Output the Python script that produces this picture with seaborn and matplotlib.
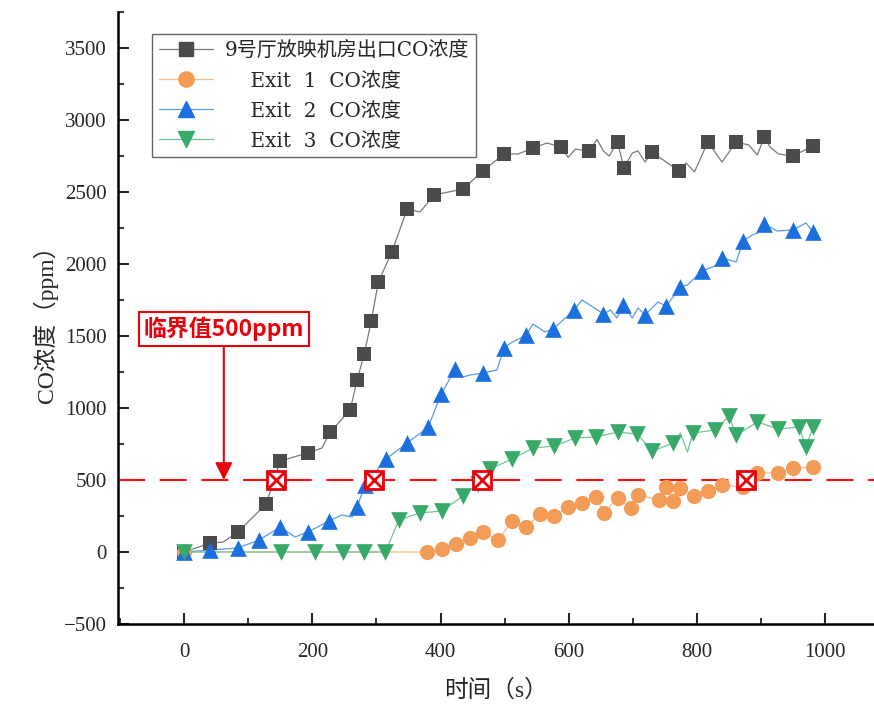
import numpy as np
import pandas as pd
import matplotlib
matplotlib.use('Agg')
import matplotlib.pyplot as plt
import seaborn as sns
from matplotlib.lines import Line2D
from matplotlib.ticker import MultipleLocator

# values (time in s, CO in ppm)
# marker points, plus the extra vertices of the thin line between markers
black_t = [0, 41, 84, 128, 150, 193, 228, 259, 270, 281, 292, 303, 324, 348, 390,
           435, 466, 499, 544, 588, 632, 676, 686, 730, 772, 817, 861, 905, 949, 981]
black_co = [0, 62, 139, 333, 632, 688, 833, 986, 1194, 1375, 1604, 1875, 2083, 2382, 2479,
            2521, 2646, 2764, 2805, 2812, 2785, 2847, 2667, 2778, 2646, 2847, 2847, 2882, 2750, 2819]
black_t_line = [61, 215, 368, 521, 566, 599, 610, 644, 654, 663, 699, 708, 719,
                754, 783, 796, 839, 881, 894, 914, 927]
black_co_line = [69, 722, 2361, 2764, 2840, 2740, 2798, 2865, 2785, 2750, 2771, 2785, 2708,
                 2701, 2701, 2640, 2708, 2826, 2757, 2812, 2764]

exit1_t = [0, 379, 402, 424, 446, 466, 490, 512, 534, 555, 577, 599, 621, 643, 655,
           676, 697, 708, 741, 752, 763, 774, 796, 817, 839, 872, 894, 927, 949, 981]
exit1_co = [0, 0, 21, 56, 97, 139, 83, 215, 174, 264, 250, 312, 340, 382, 271,
            375, 306, 396, 361, 451, 354, 444, 389, 424, 465, 451, 549, 549, 583, 590]
exit1_t_line = []
exit1_co_line = []

exit2_t = [0, 41, 84, 117, 150, 193, 226, 270, 282, 315, 348, 381, 401, 423, 466,
           499, 534, 576, 608, 654, 685, 719, 752, 774, 807, 839, 872, 905, 949, 981]
exit2_co = [0, 14, 28, 83, 174, 139, 215, 312, 465, 646, 757, 868, 1097, 1271, 1243,
            1417, 1507, 1549, 1680, 1653, 1715, 1646, 1708, 1840, 1951, 2042, 2160, 2278, 2236, 2222]
exit2_t_line = [173, 246, 262, 435, 446, 488, 512, 544, 563, 621, 665, 675, 699, 708,
                739, 785, 828, 861, 886, 895, 925, 970]
exit2_co_line = [104, 257, 243, 1215, 1229, 1264, 1458, 1583, 1528, 1750, 1680, 1625, 1625, 1694,
                 1736, 1854, 1986, 2014, 2201, 2215, 2229, 2285]

exit3_t = [0, 151, 204, 248, 281, 314, 335, 368, 402, 435, 458, 477, 512, 544, 577,
           610, 643, 676, 707, 730, 763, 794, 828, 850, 861, 894, 927, 959, 970, 981]
exit3_co = [0, 0, 0, 0, 0, 0, 222, 271, 285, 389, 470, 576, 646, 722, 736,
            792, 799, 833, 819, 701, 757, 826, 847, 944, 812, 903, 854, 868, 729, 868]
exit3_t_line = [774, 785]
exit3_co_line = [826, 694]

# times where each curve reaches the critical value
cross_t = [144, 296, 465, 877]
critical = 500

labels = ['9号厅放映机房出口CO浓度', '    Exit  1  CO浓度', '    Exit  2  CO浓度', '    Exit  3  CO浓度']

sns.set_style('ticks', {'xtick.direction': 'in', 'ytick.direction': 'in'})
plt.rcParams['font.family'] = ['Liberation Serif', 'Noto Sans CJK SC']
plt.rcParams['axes.unicode_minus'] = True

fig = plt.figure(figsize=(8.74, 7.06), dpi=100)
ax = fig.add_axes([118 / 874, 1 - 624 / 706, 1 - 118 / 874, (624 - 12) / 706])

styles = [
    ('#7a7a7a', '#4b4b4b', 's', 10),
    ('#f7bd8a', '#f39c58', 'o', 11),
    ('#5d9be8', '#1c6fde', '^', 12),
    ('#72c596', '#37aa69', 'v', 12),
]
series = [
    (black_t, black_co, black_t_line, black_co_line),
    (exit1_t, exit1_co, exit1_t_line, exit1_co_line),
    (exit2_t, exit2_co, exit2_t_line, exit2_co_line),
    (exit3_t, exit3_co, exit3_t_line, exit3_co_line),
]

handles = []
for (t, co, tl, col), (lc, mc, m, ms) in zip(series, styles):
    df = pd.DataFrame({'t': t + tl, 'co': co + col}).sort_values('t')
    sns.lineplot(data=df, x='t', y='co', ax=ax, color=lc, lw=0.9,
                 estimator=None, zorder=2)
    sns.scatterplot(x=t, y=co, ax=ax, marker=m, s=ms ** 2, color=mc,
                    edgecolor=mc, linewidth=0, zorder=3)
    handles.append(Line2D([], [], color=lc, lw=0.9, marker=m, ms=ms, mfc=mc, mec=mc))

# critical line and crossing marks
ax.axhline(critical, color='#ff1010', lw=1.5, dashes=(13, 7), zorder=1)
ax.plot(cross_t, [critical] * len(cross_t), ls='none', marker='s', ms=12.5,
        mfc='white', mec='#e8000b', mew=2, zorder=5)
ax.plot(cross_t, [critical] * len(cross_t), ls='none', marker='x', ms=11.5,
        mec='#e8000b', mew=2, zorder=6)

ax.annotate('临界值500ppm', xy=(62, critical), xytext=(62, 1549),
            ha='center', va='center', fontsize=16.5, fontweight='bold', color='#e8000b',
            family=['Noto Sans CJK SC'],
            bbox=dict(boxstyle='square,pad=0.22', fc='white', ec='#e8000b', lw=1.5),
            arrowprops=dict(arrowstyle='-|>', color='#e8000b', lw=1.5,
                            mutation_scale=26, shrinkA=0, shrinkB=0),
            zorder=7)

ax.set_xlim(-103, 1076)
ax.set_ylim(-500, 3750)
ax.xaxis.set_major_locator(MultipleLocator(200))
ax.xaxis.set_minor_locator(MultipleLocator(100))
ax.yaxis.set_major_locator(MultipleLocator(500))
ax.yaxis.set_minor_locator(MultipleLocator(250))
ax.tick_params(which='major', length=8, width=1.5, labelsize=15, pad=8)
ax.tick_params(which='minor', length=4.5, width=1.3)
ax.tick_params(axis='x', pad=14)
for s in ['left', 'bottom']:
    ax.spines[s].set_linewidth(1.8)
    ax.spines[s].set_color('black')
sns.despine(ax=ax)

ax.set_xlabel('时间（s）', fontsize=17, labelpad=12)
ax.set_ylabel('CO浓度（ppm）', fontsize=17, labelpad=4)

leg = ax.legend(handles, labels, loc='upper left', bbox_to_anchor=(0.045, 0.964),
                borderaxespad=0, fancybox=False, edgecolor='#666666', framealpha=1,
                prop={'family': ['DejaVu Serif', 'Noto Sans CJK SC'], 'size': 14.4},
                handlelength=2.7, handletextpad=0.6, labelspacing=0.55, borderpad=0.35)
leg.get_frame().set_linewidth(1.0)

fig.savefig('out.png', dpi=100)
